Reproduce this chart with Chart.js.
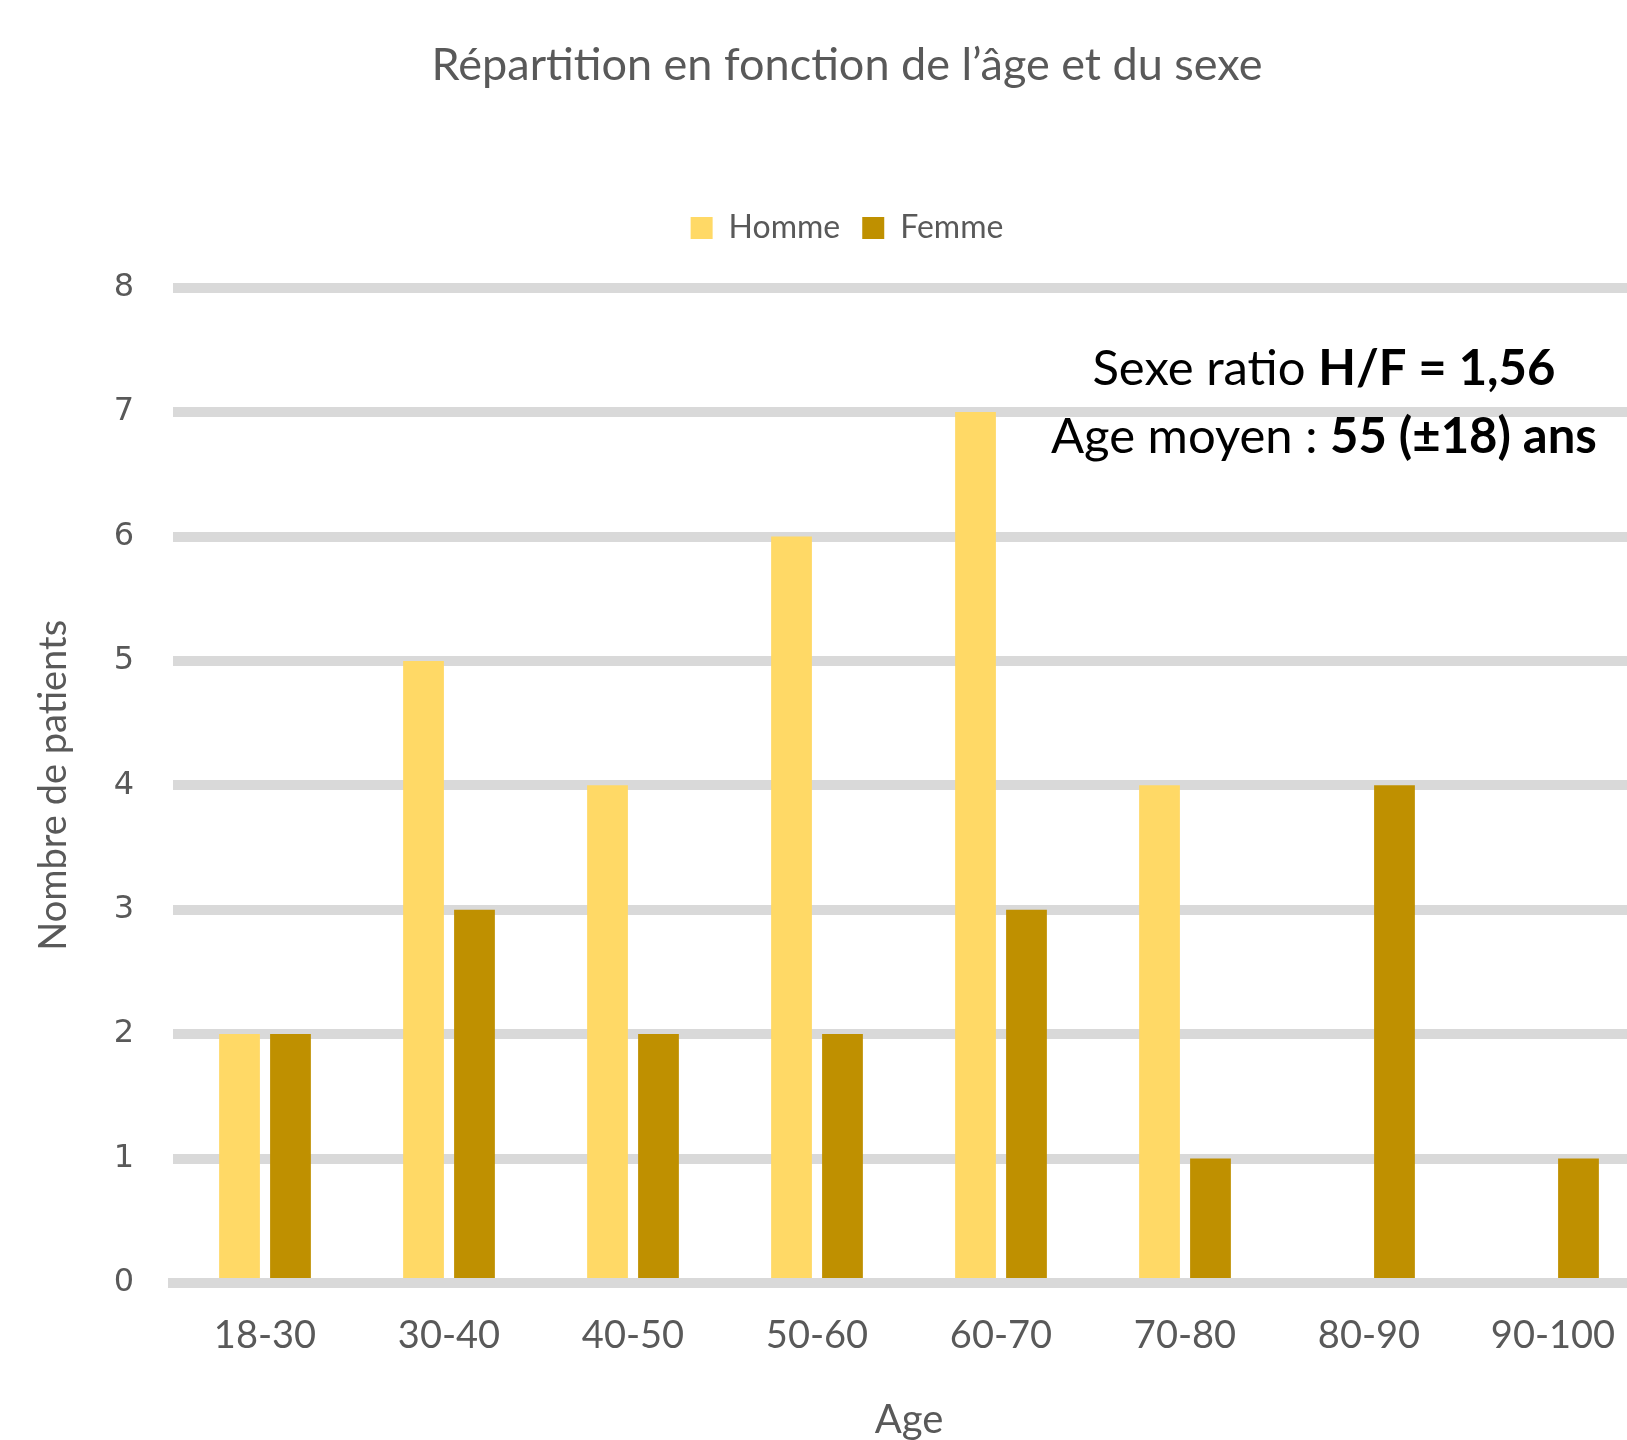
<!DOCTYPE html>
<html><head><meta charset="utf-8">
<script src="https://cdn.jsdelivr.net/npm/chart.js@4.4.1/dist/chart.umd.min.js"></script>
<style>
html,body{margin:0;padding:0;background:#fff;overflow:hidden;}
#wrap{width:1627px;height:1440px;overflow:hidden;position:relative;background:#fff;}
#c{display:block;}
</style></head><body>
<div id="wrap"><canvas id="c" width="1694" height="1440"></canvas></div>
<script>
const categories = ['18-30', '30-40', '40-50', '50-60', '60-70', '70-80', '80-90', '90-100'];
const hommeValues = [2, 5, 4, 6, 7, 4, 0, 0];
const femmeValues = [2, 3, 2, 2, 3, 1, 4, 1];
const yTicks = [0, 1, 2, 3, 4, 5, 6, 7, 8];
const seriesNames = ['Homme', 'Femme'];
const chartTitle = 'Répartition en fonction de l’âge et du sexe';
const xTitle = 'Age';
const yTitle = 'Nombre de patients';
const noteLines = [
  [{ text: 'Sexe ratio ', bold: false }, { text: 'H/F = 1,56', bold: true }],
  [{ text: 'Age moyen : ', bold: false }, { text: '55 (±18) ans', bold: true }]
];
// anchor of the note in data coordinates (category index, value)
const noteX = 5.755;
const noteY = [7.22, 6.67];

const GREY = '#595959';
const FONT = 'Lato, "Open Sans", sans-serif';

const notePlugin = {
  id: 'note',
  afterDraw(chart) {
    const ctx = chart.ctx;
    const xs = chart.scales.x, ys = chart.scales.y;
    const cx = xs.getPixelForValue(noteX);
    ctx.save();
    ctx.fillStyle = '#000';
    ctx.textBaseline = 'alphabetic';
    ctx.textAlign = 'left';
    noteLines.forEach((parts, i) => {
      const fonts = parts.map(p => (p.bold ? 'bold ' : '') + '49px ' + FONT);
      let total = 0;
      const widths = parts.map((p, j) => { ctx.font = fonts[j]; const w = ctx.measureText(p.text).width; total += w; return w; });
      let x = cx - total / 2;
      const y = ys.getPixelForValue(noteY[i]);
      parts.forEach((p, j) => { ctx.font = fonts[j]; ctx.fillText(p.text, x, y); x += widths[j]; });
    });
    ctx.restore();
  }
};

new Chart(document.getElementById('c'), {
  type: 'bar',
  data: {
    labels: categories,
    datasets: [
      { label: seriesNames[0], data: hommeValues, backgroundColor: '#FFD966', barPercentage: 0.80, categoryPercentage: 0.554 },
      { label: seriesNames[1], data: femmeValues, backgroundColor: '#BF9000', barPercentage: 0.80, categoryPercentage: 0.554 }
    ]
  },
  options: {
    responsive: false,
    animation: false,
    layout: { padding: { left: 49, right: 49, top: 0, bottom: 0 } },
    plugins: {
      title: {
        display: true, text: chartTitle, color: GREY,
        font: { family: FONT, size: 45, weight: 'normal', lineHeight: 1.2 },
        padding: { top: 38, bottom: 98 }
      },
      subtitle: {
        display: true, text: '', weight: 500,
        font: { size: 1, lineHeight: 1 }, padding: { top: 0, bottom: 32.7 }
      },
      legend: {
        position: 'top',
        labels: { boxWidth: 22, boxHeight: 22, color: GREY, padding: 22, font: { family: FONT, size: 32 } }
      },
      tooltip: { enabled: false }
    },
    scales: {
      x: {
        z: 1,
        grid: { display: false, drawTicks: false },
        border: { display: true, color: '#D9D9D9', width: 10 },
        ticks: { color: GREY, font: { family: FONT, size: 38 }, padding: 30 },
        title: { display: true, text: xTitle, color: GREY, font: { family: FONT, size: 40, lineHeight: 1.0 }, padding: { top: 11.5, bottom: 0 } }
      },
      y: {
        min: 0, max: 8,
        afterBuildTicks(scale) { scale.ticks = yTicks.map(v => ({ value: v })); },
        afterFit(scale) { scale.width = 124; },
        grid: { color: '#D9D9D9', lineWidth: 10, drawTicks: false },
        border: { display: false },
        ticks: { color: GREY, font: { family: '"DejaVu Sans", sans-serif', size: 32 }, padding: 39 },
        title: { display: true, text: yTitle, color: GREY, font: { family: FONT, size: 38, lineHeight: 1.0 }, padding: { top: -14, bottom: 0 } }
      }
    }
  },
  plugins: [notePlugin]
});
</script>
</body></html>
